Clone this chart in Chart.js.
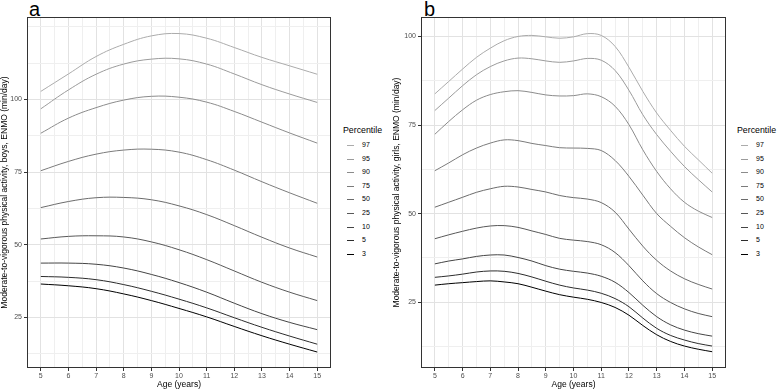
<!DOCTYPE html>
<html>
<head>
<meta charset="utf-8">
<script src="https://cdn.jsdelivr.net/npm/chart.js@4.4.1/dist/chart.umd.min.js"></script>
<style>
  body { margin: 0; width: 777px; height: 390px; background: #fff; position: relative; overflow: hidden;
         font-family: "Liberation Sans", Arial, Helvetica, sans-serif; }
  canvas { position: absolute; top: 0; }
  #chartA { left: 0; }
  #chartB { left: 392px; }
  .tag { position: absolute; top: -1.5px; font-size: 20px; line-height: 1; color: #000; }
  .legend { position: absolute; top: 125px; width: 45px; height: 140px; color: #000; }
  .legend .title { position: absolute; left: 0; top: 0; font-size: 8.8px; line-height: 11px; white-space: nowrap; }
  .legend .key { position: absolute; left: 3.5px; width: 7px; height: 1px; }
  .legend .lbl { position: absolute; left: 19px; font-size: 7px; line-height: 8px; color: #000; }
</style>
</head>
<body>
<div class="tag" style="left:29px">a</div>
<div class="tag" style="left:424px">b</div>
<canvas id="chartA" width="340" height="390"></canvas>
<canvas id="chartB" width="340" height="390"></canvas>
<div class="legend" id="legendA" style="left:343px"></div>
<div class="legend" id="legendB" style="left:737px"></div>
<script>
// percentiles, top (lightest) to bottom (black)
const percentiles = [97, 95, 90, 75, 50, 25, 10, 5, 3];
const lineColours = ['#ababab', '#9b9b9b', '#8b8b8b', '#7b7b7b', '#6b6b6b', '#585858', '#444444', '#2c2c2c', '#000000'];

// x axis
const ageTicks = [5, 6, 7, 8, 9, 10, 11, 12, 13, 14, 15];
const ageGrid = [5, 5.5, 6, 6.5, 7, 7.5, 8, 8.5, 9, 9.5, 10, 10.5, 11, 11.5, 12, 12.5, 13, 13.5, 14, 14.5, 15];

// y axis
const mvpaTicks = [25, 50, 75, 100];
const mvpaGrid = [12.5, 25, 37.5, 50, 62.5, 75, 87.5, 100, 112.5, 125];

// boys, panel a
const agesBoys = [5, 6, 7, 8, 9, 10, 11, 12, 13, 14, 15];
const boysP97 = [102.8, 108.8, 114.8, 119.0, 121.9, 122.7, 121.1, 117.9, 114.5, 111.6, 108.7];
const boysP95 = [96.8, 103.3, 108.7, 112.2, 113.9, 114.0, 112.2, 108.8, 105.1, 101.9, 99.0];
const boysP90 = [88.4, 93.6, 97.2, 99.8, 101.1, 100.8, 99.1, 95.9, 92.2, 88.5, 85.0];
const boysP75 = [75.5, 78.7, 81.2, 82.6, 82.9, 81.9, 79.3, 75.7, 71.7, 67.9, 64.3];
const boysP50 = [62.8, 64.9, 66.2, 66.3, 65.5, 63.4, 60.4, 56.6, 52.6, 48.9, 45.8];
const boysP25 = [52.0, 52.9, 53.1, 52.7, 51.0, 48.3, 44.9, 41.0, 37.1, 33.7, 30.8];
const boysP10 = [43.7, 43.7, 43.3, 42.0, 39.8, 37.0, 33.7, 29.9, 26.3, 23.3, 20.8];
const boysP5 = [39.1, 38.8, 38.0, 36.3, 34.0, 31.3, 28.3, 24.9, 21.6, 18.6, 15.8];
const boysP3 = [36.5, 35.9, 34.9, 33.1, 30.8, 28.1, 25.2, 21.9, 18.7, 15.8, 13.1];

// girls, panel b
const agesGirls = [5, 5.5, 6, 6.5, 7, 7.5, 8, 8.5, 9, 9.5, 10, 10.5, 11, 11.5, 12, 12.5, 13, 13.5, 14, 14.5, 15];
const girlsP97 = [83.8, 87.3, 90.8, 94.1, 96.7, 98.8, 100.0, 100.3, 99.9, 99.5, 99.9, 100.8, 100.3, 97.2, 91.3, 84.5, 78.4, 73.5, 69.0, 65.2, 61.4];
const girlsP95 = [79.1, 82.6, 86.1, 89.2, 91.5, 93.1, 93.9, 93.7, 93.1, 92.7, 93.1, 93.8, 93.3, 90.4, 84.8, 77.9, 72.3, 67.6, 63.3, 59.6, 56.1];
const girlsP90 = [72.4, 76.0, 79.3, 82.0, 83.6, 84.4, 84.7, 84.2, 83.5, 83.2, 83.3, 83.8, 83.0, 80.3, 75.1, 68.0, 61.9, 57.0, 53.2, 50.7, 48.9];
const girlsP75 = [62.1, 64.3, 66.6, 68.5, 69.9, 70.8, 70.6, 69.8, 69.2, 68.6, 68.5, 68.4, 67.8, 65.0, 60.5, 55.2, 50.0, 46.4, 43.2, 40.6, 38.4];
const girlsP50 = [51.8, 53.2, 54.6, 56.0, 57.0, 57.7, 57.5, 56.8, 56.1, 55.1, 54.5, 54.1, 53.1, 50.4, 45.6, 40.8, 36.8, 33.8, 31.6, 30.0, 28.7];
const girlsP25 = [42.9, 44.0, 45.0, 45.9, 46.5, 46.6, 46.1, 45.1, 44.1, 43.0, 42.5, 42.1, 41.2, 39.0, 35.3, 31.0, 27.4, 24.9, 23.1, 21.8, 20.9];
const girlsP10 = [35.8, 36.6, 37.2, 37.9, 38.3, 38.3, 37.6, 36.6, 35.3, 34.3, 33.7, 33.2, 32.3, 30.6, 27.7, 24.1, 20.9, 18.6, 17.1, 16.1, 15.4];
const girlsP5 = [32.0, 32.4, 32.9, 33.5, 33.8, 33.7, 33.1, 32.1, 30.9, 29.8, 29.0, 28.4, 27.5, 26.0, 23.7, 20.5, 17.6, 15.6, 14.3, 13.3, 12.6];
const girlsP3 = [29.8, 30.2, 30.5, 30.8, 31.0, 30.7, 30.2, 29.2, 28.1, 27.1, 26.4, 25.8, 24.9, 23.5, 21.3, 18.4, 15.8, 13.9, 12.6, 11.7, 11.0];

const boysSeries = [boysP97, boysP95, boysP90, boysP75, boysP50, boysP25, boysP10, boysP5, boysP3];
const girlsSeries = [girlsP97, girlsP95, girlsP90, girlsP75, girlsP50, girlsP25, girlsP10, girlsP5, girlsP3];

const FONT = '"Liberation Sans", Arial, Helvetica, sans-serif';

// dark frame round the panel
const panelFrame = {
    id: 'panelFrame',
    afterDraw(chart) {
        const { ctx, chartArea } = chart;
        ctx.save();
        ctx.strokeStyle = '#333333';
        ctx.lineWidth = 1;
        ctx.strokeRect(Math.round(chartArea.left) + 0.5, Math.round(chartArea.top) + 0.5,
            Math.round(chartArea.right - chartArea.left) - 1, Math.round(chartArea.bottom - chartArea.top) - 1);
        ctx.restore();
    }
};

function montarDatasets(ages, series, tension) {
    return series.map(function (valores, i) {
        return {
            label: String(percentiles[i]),
            data: ages.map((a, j) => ({ x: a, y: valores[j] })),
            borderColor: lineColours[i],
            borderWidth: 1,
            pointRadius: 0,
            fill: false,
            tension: tension
        };
    });
}

function criarGrafico(id, ages, series, tension, yMin, yMax, yTitle, yWidth, padRight) {
    return new Chart(document.getElementById(id), {
        type: 'line',
        data: { datasets: montarDatasets(ages, series, tension) },
        plugins: [panelFrame],
        options: {
            responsive: false,
            animation: false,
            layout: { padding: { top: 17, right: padRight, left: 0, bottom: 0 } },
            plugins: { legend: { display: false }, tooltip: { enabled: false } },
            scales: {
                x: {
                    type: 'linear',
                    min: 4.5,
                    max: 15.5,
                    afterBuildTicks: s => { s.ticks = ageGrid.map(v => ({ value: v })); },
                    afterFit: s => { s.height = 22; },
                    ticks: {
                        autoSkip: false, maxRotation: 0, padding: 1,
                        color: '#4d4d4d', font: { family: FONT, size: 7 },
                        callback: v => ageTicks.includes(v) ? String(v) : ''
                    },
                    grid: {
                        color: c => ageTicks.includes(c.tick.value) ? '#e2e2e2' : '#efefef',
                        lineWidth: 1,
                        tickLength: 3,
                        tickColor: c => ageTicks.includes(c.tick.value) ? '#333333' : 'rgba(0,0,0,0)'
                    },
                    border: { display: false },
                    title: { display: true, text: 'Age (years)', padding: 0, color: '#000', font: { family: FONT, size: 8.5 } }
                },
                y: {
                    type: 'linear',
                    min: yMin,
                    max: yMax,
                    afterBuildTicks: s => { s.ticks = mvpaGrid.filter(v => v > yMin && v < yMax).map(v => ({ value: v })); },
                    afterFit: s => { s.width = yWidth; },
                    ticks: {
                        autoSkip: false, padding: 2,
                        color: '#4d4d4d', font: { family: FONT, size: 7 },
                        callback: v => mvpaTicks.includes(v) ? String(v) : ''
                    },
                    grid: {
                        color: c => mvpaTicks.includes(c.tick.value) ? '#e2e2e2' : '#efefef',
                        lineWidth: 1,
                        tickLength: 3,
                        tickColor: c => mvpaTicks.includes(c.tick.value) ? '#333333' : 'rgba(0,0,0,0)'
                    },
                    border: { display: false },
                    title: { display: true, text: yTitle, padding: 0, color: '#000', font: { family: FONT, size: 8.5 } }
                }
            }
        }
    });
}

function montarLegenda(id) {
    const box = document.getElementById(id);
    let html = '<div class="title">Percentile</div>';
    percentiles.forEach(function (p, i) {
        const centro = 20 + i * 13.6;   // centre of row, relative to legend top
        html += '<span class="key" style="top:' + Math.round(centro) + 'px;background:' + lineColours[i] + '"></span>' +
            '<span class="lbl" style="top:' + Math.round(centro - 4) + 'px">' + p + '</span>';
    });
    box.innerHTML = html;
}

criarGrafico('chartA', agesBoys, boysSeries, 0.4, 7.6, 128.4,
    'Moderate-to-vigorous physical activity, boys, ENMO (min/day)', 27, 9);
criarGrafico('chartB', agesGirls, girlsSeries, 0.35, 6.4, 105.5,
    'Moderate-to-vigorous physical activity, girls, ENMO (min/day)', 29, 6);
montarLegenda('legendA');
montarLegenda('legendB');
</script>
</body>
</html>
